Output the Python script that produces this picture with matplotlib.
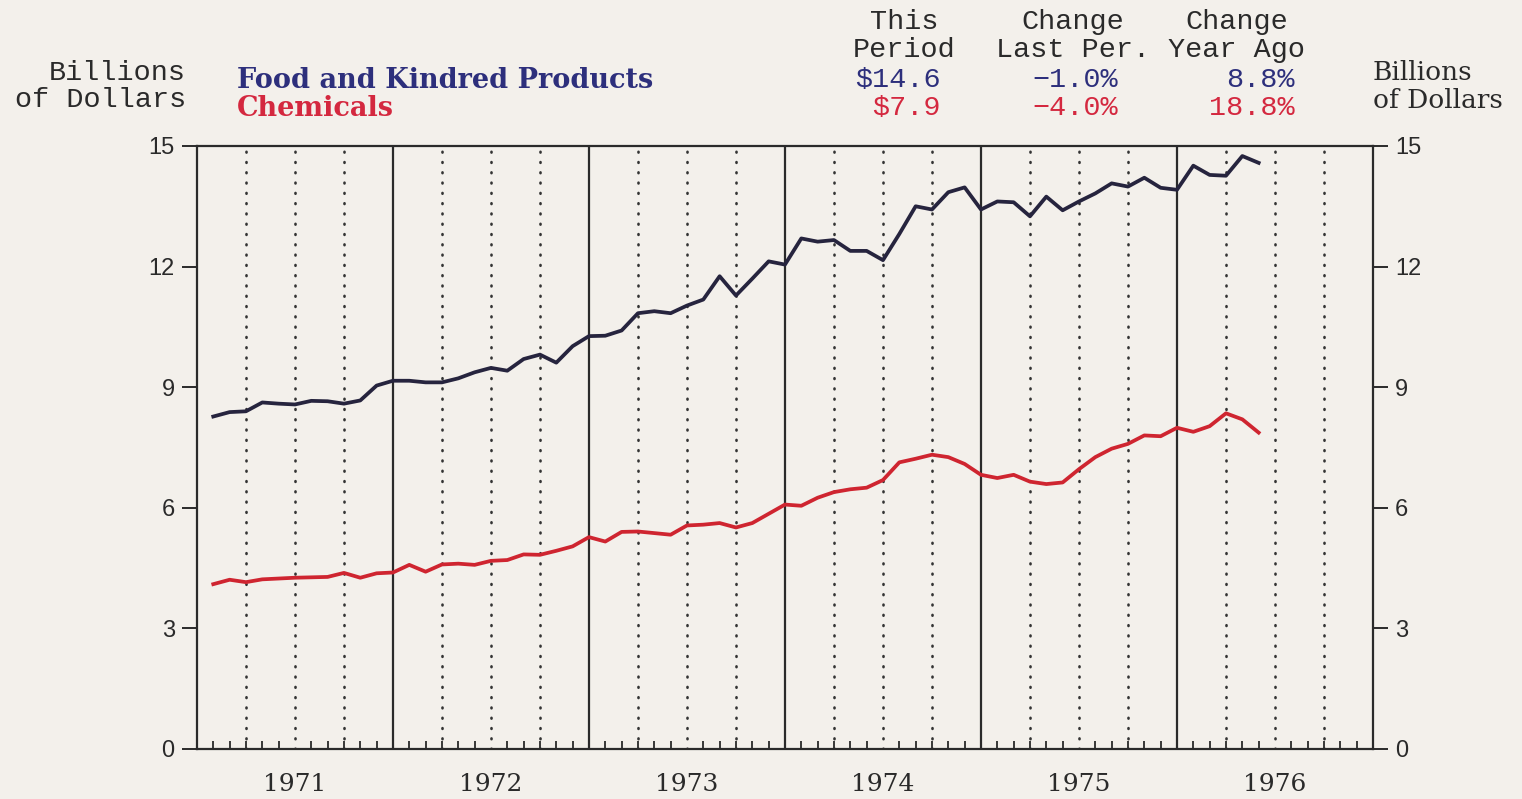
import numpy as np
import pandas as pd
import matplotlib
matplotlib.use('Agg')
import matplotlib.pyplot as plt

# monthly shipments, billions of dollars, Jan 1971 - May 1976
months = pd.date_range('1971-01-01', '1976-05-01', freq='MS')
food = [8.27, 8.38, 8.40, 8.62, 8.59, 8.57, 8.66, 8.65, 8.59, 8.67, 9.04, 9.16,
        9.16, 9.12, 9.12, 9.22, 9.37, 9.48, 9.41, 9.70, 9.81, 9.61, 10.02, 10.27,
        10.28, 10.41, 10.84, 10.89, 10.84, 11.03, 11.18, 11.76, 11.28, 11.70, 12.13, 12.05,
        12.70, 12.62, 12.66, 12.39, 12.39, 12.16, 12.81, 13.50, 13.42, 13.85, 13.97, 13.42,
        13.62, 13.60, 13.25, 13.74, 13.40, 13.62, 13.82, 14.07, 13.99, 14.21, 13.96, 13.91,
        14.51, 14.28, 14.26, 14.75, 14.58]
chem = [4.10, 4.21, 4.15, 4.22, 4.24, 4.26, 4.27, 4.28, 4.38, 4.26, 4.37, 4.39,
        4.58, 4.41, 4.59, 4.61, 4.58, 4.68, 4.70, 4.84, 4.83, 4.93, 5.04, 5.27,
        5.16, 5.40, 5.41, 5.37, 5.33, 5.56, 5.58, 5.62, 5.51, 5.62, 5.85, 6.08,
        6.05, 6.25, 6.39, 6.46, 6.50, 6.69, 7.13, 7.22, 7.32, 7.26, 7.09, 6.82,
        6.74, 6.82, 6.65, 6.59, 6.63, 6.96, 7.26, 7.47, 7.59, 7.80, 7.78, 7.99,
        7.89, 8.03, 8.35, 8.20, 7.87]

series_names = ['Food and Kindred Products', 'Chemicals']
this_period = ['$14.6', '$7.9']
chg_last = ['\u22121.0%', '\u22124.0%']
chg_year = ['8.8%', '18.8%']
years = [1971, 1972, 1973, 1974, 1975, 1976]
yticks = [0, 3, 6, 9, 12, 15]

bg = '#f3f0eb'
ink = '#2a2a2a'
navy = '#2d2f7c'
red = '#d4283f'
line_navy = '#26243e'
line_red = '#cf2530'

x = months.year + months.month / 12.0

fig = plt.figure(figsize=(15.22, 7.99), dpi=100, facecolor=bg)
ax = fig.add_axes([0.1294, 0.0626, 0.9021 - 0.1294, 0.8173 - 0.0626])
ax.set_facecolor(bg)

ax.set_xlim(years[0], years[-1] + 1)
ax.set_ylim(0, 15)

# quarter dotted grid and year lines
for yr in years:
    for q in (3, 6, 9):
        ax.axvline(yr + q / 12.0, color='#333333', lw=1.9, ls=(0, (0.3, 3.6)),
                   dash_capstyle='round', zorder=1)
    if yr > years[0]:
        ax.axvline(yr, color=ink, lw=1.6, zorder=1)

ax.plot(x, food, color=line_navy, lw=2.7, zorder=3)
ax.plot(x, chem, color=line_red, lw=2.7, zorder=3)

for s in ax.spines.values():
    s.set_color(ink)
    s.set_linewidth(1.6)

# y axis on both sides
ax.set_yticks(yticks)
ax.tick_params(axis='y', which='both', direction='out', length=11, width=1.4, color=ink,
               labelsize=17, pad=5, left=True, right=True, labelleft=True, labelright=True,
               labelcolor='#2a2a2a')
for lab in ax.get_yticklabels():
    lab.set_family('Liberation Sans')

# monthly ticks on x axis, labels at mid-year
ax.set_xticks([yr + m / 12.0 for yr in years for m in range(12)] + [years[-1] + 1], minor=True)
ax.set_xticks([yr + 0.5 for yr in years])
ax.set_xticklabels([str(y) for y in years], family='DejaVu Serif', fontsize=18, color='#2a2a2a')
ax.tick_params(axis='x', which='major', length=0, pad=17)
ax.tick_params(axis='x', which='minor', direction='in', length=6, width=1.3, color=ink)

# header texts
mono = 'Liberation Mono'
serif = 'DejaVu Serif'
fig.text(186 / 1522, 1 - 73 / 799, 'Billions', family=mono, fontsize=20.5, color=ink, ha='right', va='center')
fig.text(186 / 1522, 1 - 100 / 799, 'of Dollars', family=mono, fontsize=20.5, color=ink, ha='right', va='center')
fig.text(1373 / 1522, 1 - 73 / 799, 'Billions', family=serif, fontsize=19, color=ink, ha='left', va='center')
fig.text(1373 / 1522, 1 - 100 / 799, 'of Dollars', family=serif, fontsize=19, color=ink, ha='left', va='center')

fig.text(237 / 1522, 1 - 80 / 799, series_names[0], family=serif, fontsize=19.5, color=navy,
         ha='left', va='center', fontweight='bold')
fig.text(237 / 1522, 1 - 108 / 799, series_names[1], family=serif, fontsize=19.5, color=red,
         ha='left', va='center', fontweight='bold')

hdr = [('This', 'Period', 904), ('Change', 'Last Per.', 1073), ('Change', 'Year Ago', 1237)]
for top, bot, cx in hdr:
    fig.text(cx / 1522, 1 - 22 / 799, top, family=mono, fontsize=20.5, color=ink, ha='center', va='center')
    fig.text(cx / 1522, 1 - 50 / 799, bot, family=mono, fontsize=20.5, color=ink, ha='center', va='center')

cols = [(this_period, 941), (chg_last, 1118), (chg_year, 1295)]
for vals, rx in cols:
    for v, c, yy in zip(vals, [navy, red], [80, 108]):
        fig.text(rx / 1522, 1 - yy / 799, v, family=mono, fontsize=20.5, color=c,
                 ha='right', va='center')

fig.savefig('out.png', dpi=100, facecolor=bg)
